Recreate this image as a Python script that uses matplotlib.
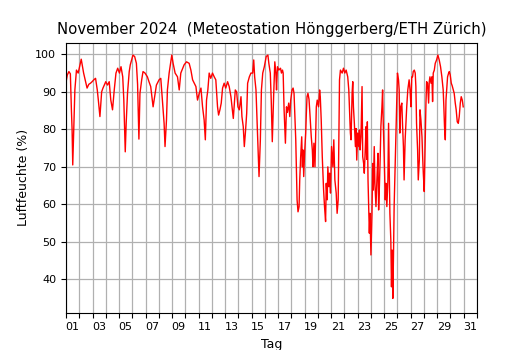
import matplotlib
matplotlib.use("Agg")
import matplotlib.pyplot as plt

# time in days since 1 Nov 2024 00:00, relative humidity in %
tage = [
    0.00, 0.10, 0.22, 0.33, 0.41, 0.46, 0.51, 0.56, 0.67, 0.79, 0.92, 1.15, 1.33, 1.46, 1.59, 1.72,
    1.85, 1.97, 2.10, 2.23, 2.36, 2.44, 2.56, 2.69, 2.79, 3.00, 3.13, 3.26, 3.38, 3.51, 3.64, 3.77,
    3.90, 4.03, 4.15, 4.28, 4.36, 4.47, 4.54, 4.64, 4.77, 4.85, 5.05, 5.18, 5.31, 5.40, 5.50, 5.58,
    5.71, 5.81, 5.96, 6.14, 6.26, 6.39, 6.57, 6.72, 6.82, 7.02, 7.15, 7.27, 7.40, 7.47, 7.58, 7.65,
    7.78, 7.98, 8.08, 8.23, 8.41, 8.54, 8.66, 8.91, 9.09, 9.29, 9.42, 9.55, 9.80, 9.92, 10.05, 10.18,
    10.30, 10.42, 10.51, 10.60, 10.70, 10.80, 10.92, 11.05, 11.18, 11.30, 11.43, 11.51, 11.61, 11.71,
    11.81, 11.93, 12.05, 12.19, 12.31, 12.44, 12.62, 12.77, 12.87, 12.97, 13.07, 13.20, 13.27, 13.37,
    13.45, 13.53, 13.63, 13.70, 13.83, 13.95, 14.08, 14.16, 14.23, 14.33, 14.46, 14.56, 14.66, 14.74,
    14.84, 14.96, 15.10, 15.23, 15.30, 15.41, 15.48, 15.56, 15.66, 15.75, 15.83, 15.88, 15.95, 16.05,
    16.18, 16.25, 16.33, 16.38, 16.45, 16.55, 16.63, 16.70, 16.80, 16.88, 16.95, 17.05, 17.13, 17.20,
    17.33, 17.43, 17.50, 17.58, 17.63, 17.70, 17.78, 17.83, 17.88, 17.93, 18.00, 18.08, 18.13, 18.18,
    18.25, 18.33, 18.38, 18.50, 18.58, 18.63, 18.70, 18.78, 18.88, 18.95, 19.05, 19.13, 19.18, 19.25,
    19.33, 19.43, 19.50, 19.58, 19.63, 19.70, 19.75, 19.83, 19.88, 19.95, 20.03, 20.13, 20.20, 20.28,
    20.38, 20.45, 20.53, 20.58, 20.63, 20.70, 20.83, 20.93, 21.03, 21.13, 21.25, 21.33, 21.38, 21.45,
    21.50, 21.58, 21.63, 21.68, 21.75, 21.83, 21.88, 21.93, 22.00, 22.08, 22.13, 22.18, 22.25, 22.33,
    22.38, 22.45, 22.50, 22.58, 22.63, 22.68, 22.73, 22.78, 22.83, 22.88, 22.93, 23.00, 23.08, 23.13,
    23.18, 23.25, 23.30, 23.38, 23.45, 23.53, 23.58, 23.63, 23.70, 23.75, 23.83, 23.88, 23.93, 24.00,
    24.08, 24.13, 24.20, 24.28, 24.33, 24.38, 24.43, 24.50, 24.55, 24.60, 24.65, 24.70, 24.75, 24.80,
    24.88, 24.93, 25.00, 25.08, 25.13, 25.18, 25.25, 25.33, 25.38, 25.45, 25.50, 25.58, 25.63, 25.70,
    25.78, 25.88, 25.95, 26.02, 26.08, 26.14, 26.19, 26.27, 26.34, 26.39, 26.44, 26.52, 26.57, 26.65,
    26.70, 26.77, 26.85, 26.90, 26.95, 27.02, 27.10, 27.15, 27.20, 27.27, 27.35, 27.40, 27.45, 27.53,
    27.60, 27.65, 27.70, 27.78, 27.85, 27.95, 28.05, 28.15, 28.25, 28.35, 28.45, 28.50, 28.55, 28.61,
    28.66, 28.71, 28.78, 28.86, 28.91, 28.98, 29.06, 29.13, 29.21, 29.28, 29.36, 29.43, 29.51, 29.59,
    29.66, 29.74, 29.81, 29.89, 29.96,
]
feuchte = [
    92.5, 94.5, 95.4, 94.8, 85.0, 80.0, 70.5, 77.0, 90.5, 95.8, 95.0, 98.7, 95.0, 93.0, 91.0, 92.0,
    92.3, 92.7, 93.2, 93.6, 90.5, 87.8, 83.4, 90.0, 91.0, 92.7, 91.8, 92.7, 87.8, 85.2, 90.5, 95.0,
    96.3, 95.0, 96.7, 94.0, 88.0, 74.0, 81.6, 89.6, 95.4, 97.2, 99.8, 99.4, 97.6, 92.0, 77.4, 89.6,
    93.2, 95.4, 95.0, 94.0, 92.7, 91.4, 86.0, 89.6, 91.8, 93.2, 93.6, 87.8, 81.6, 75.4, 82.5, 90.5,
    95.0, 99.8, 97.6, 95.0, 94.0, 90.5, 95.0, 97.2, 98.0, 97.6, 95.8, 93.2, 91.4, 87.8, 89.6, 91.0,
    86.0, 82.5, 77.2, 87.8, 90.5, 95.0, 93.6, 95.0, 94.0, 93.2, 86.0, 83.8, 85.2, 87.0,
    91.0, 92.3, 91.0, 92.7, 91.4, 88.7, 82.9, 90.5, 90.0, 86.0, 85.2, 88.7, 83.4, 80.7,
    75.4, 79.0, 84.3, 92.3, 94.0, 95.0, 95.0, 98.5, 94.0, 90.5, 77.2, 67.4, 77.2, 90.5,
    95.0, 96.7, 99.4, 99.8, 97.6, 95.0, 87.8, 76.7, 88.7, 98.0, 95.0, 90.5, 96.7, 95.8,
    96.3, 95.0, 95.8, 95.0, 85.2, 76.3, 86.0, 84.5, 87.0, 83.4, 87.8, 90.5, 91.0, 89.6,
    77.2, 61.2, 58.0, 59.4, 66.5, 72.7, 78.0, 70.0, 74.5, 67.4, 73.8, 79.0, 84.3, 88.7,
    89.6, 88.0, 85.2, 78.0, 74.5, 70.0, 76.3, 70.0, 86.0, 87.8, 86.0, 90.5, 88.7, 82.5,
    72.7, 63.8, 59.4, 55.4, 65.6, 61.2, 70.0, 64.7, 68.3, 63.0, 75.4, 70.0, 77.2, 66.5,
    63.0, 57.6, 61.2, 77.2, 93.2, 95.8, 95.0, 96.3, 95.0, 95.8, 94.0, 90.5, 86.0, 79.0,
    77.2, 89.6, 92.7, 86.0, 81.6, 75.4, 80.2, 71.8, 79.0, 75.4, 79.8, 74.5, 78.0, 91.4,
    72.7, 70.9, 68.3, 75.4, 80.7, 72.0, 82.0, 66.5, 59.4, 52.3, 57.6, 46.5, 57.6, 70.9,
    63.8, 75.4, 65.6, 59.4, 66.5, 73.6, 58.5, 63.8, 72.7, 80.7, 86.0, 90.5, 81.6, 72.7,
    61.2, 65.6, 59.4, 66.5, 81.6, 70.0, 57.6, 50.5, 38.0, 47.8, 34.9, 46.0, 59.4, 66.5,
    77.2, 86.0, 95.0, 93.2, 90.5, 79.0, 86.0, 87.0, 81.6, 75.4, 66.5, 77.2, 80.7, 86.0,
    90.5, 93.2, 90.5, 86.0, 94.0, 94.0, 95.4, 95.8, 95.0, 91.4, 81.6, 74.5, 66.5, 71.8,
    85.2, 82.5, 78.0, 72.7, 68.3, 63.4, 77.2, 87.0, 92.7, 92.3, 87.0, 92.7, 94.0, 92.3,
    94.0, 87.4, 95.0, 95.8, 97.6, 98.5, 99.8, 98.5, 96.7, 94.0, 90.5, 86.0, 80.7, 77.2,
    87.8, 90.5, 94.0, 95.0, 95.4, 94.5, 92.3, 91.6, 90.5, 89.6, 87.0, 85.2, 82.0, 81.6,
    83.4, 87.0, 88.7, 87.8, 86.0,
]
tag_labels = ["%02d" % d for d in range(1, 32)]

fig = plt.figure(figsize=(5.3, 3.5), dpi=100)
ax = fig.add_axes([0.1245, 0.1066, 0.7755, 0.7714])

ax.plot(tage, feuchte, color="red", linewidth=1.0)

ax.set_xlim(0, 31)
ax.set_ylim(31.1, 103.1)
ax.set_yticks(range(40, 101, 10))

# day boundaries get the grid, day labels sit in between
ax.set_xticks(range(0, 32))
ax.set_xticklabels([])
ax.set_xticks([d - 0.5 for d in range(1, 32, 2)], minor=True)
ax.set_xticklabels(tag_labels[::2], minor=True)
ax.tick_params(axis="x", which="minor", length=0, labelsize=8, pad=7)
ax.tick_params(axis="y", labelsize=8)
ax.grid(True, color="#b0b0b0", linewidth=0.9)

ax.set_title("November 2024  (Meteostation Hönggerberg/ETH Zürich)", fontsize=10.7)
ax.set_xlabel("Tag", fontsize=9)
ax.set_ylabel("Luftfeuchte (%)", fontsize=9)

fig.savefig("out.png", dpi=100)
